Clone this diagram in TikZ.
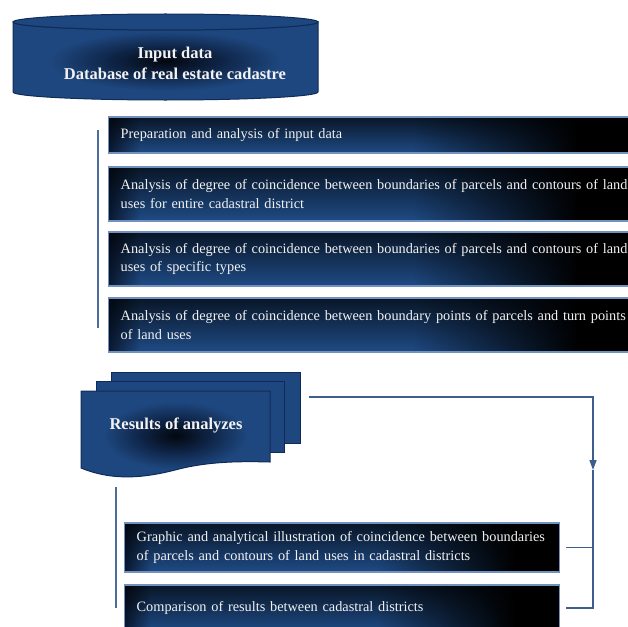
\documentclass[tikz,border=0pt]{standalone}
\usepackage{fontspec}
\setmainfont{Liberation Serif}
\usepackage{xcolor}
\usetikzlibrary{arrows.meta,fadings}
\definecolor{bar-dark}{HTML}{0A1A33}
\definecolor{bar-blue}{HTML}{1F4B85}
\definecolor{bar-edge}{HTML}{7391BD}
\definecolor{page-blue}{HTML}{1E477F}
\definecolor{page-edge}{HTML}{0F2C59}
\definecolor{glow-core}{HTML}{03070F}
\definecolor{glow-mid}{HTML}{0E2446}
\definecolor{link-blue}{HTML}{3E5F8E}
\definecolor{rail-blue}{HTML}{4D6D9C}
\definecolor{txt-white}{HTML}{F2F2F2}
\pgfdeclarehorizontalshading{barshade}{100bp}{color(0bp)=(bar-dark); color(25bp)=(bar-dark); color(28bp)=(bar-blue); color(54bp)=(bar-blue); color(70bp)=(black); color(100bp)=(black)}
\pgfdeclareradialshading{glowshade}{\pgfpoint{0bp}{0bp}}{color(0bp)=(glow-core); color(9bp)=(glow-mid); color(19bp)=(page-blue); color(50bp)=(page-blue)}

\begin{document}
\begin{tikzpicture}[x=1pt, y=-1pt,
    bar/.style={draw=bar-edge, line width=1.4pt, shade, shading=barshade, anchor=west,
      inner xsep=12pt, align=left, text=txt-white,
      font=\fontsize{14.3}{18.5}\selectfont,
      path picture={\fill[black, opacity=0.7, path fading=south]
        (path picture bounding box.south west) rectangle (path picture bounding box.north east);}},
    title/.style={text=txt-white, align=center, font=\bfseries\fontsize{16.5}{21}\selectfont},
    page/.style={draw=page-edge, line width=1pt, fill=page-blue},
    link/.style={draw=link-blue, line width=1.5pt},
    rail/.style={draw=rail-blue, line width=2pt}]
  \useasboundingbox (0,0) rectangle (628,626);
  \clip (0,0) rectangle (628,626);

  % database cylinder
  \shade[shading=glowshade, draw=page-edge, line width=1pt]
    (13,22) -- (13,92) arc[start angle=180, end angle=360, x radius=152.5pt, y radius=8pt]
    -- (318,22) arc[start angle=0, end angle=-180, x radius=152.5pt, y radius=8pt] -- cycle;
  \draw[page] (165.5,22) ellipse[x radius=152.5pt, y radius=8pt];
  \node[title] (input) at (175,63) {Input data\\Database of real estate cadastre};

  % analysis steps
  \draw[rail] (98,130) -- (98,328);
  \node[bar, text width=500pt, minimum height=36pt] (prep) at (108,135)
    {Preparation and analysis of input data};
  \node[bar, text width=500pt, minimum height=54pt] (whole) at (108,194)
    {\mbox{Analysis of degree of coincidence between boundaries of parcels and contours of land}\\uses for entire cadastral district};
  \node[bar, text width=500pt, minimum height=54pt] (types) at (108,259)
    {\mbox{Analysis of degree of coincidence between boundaries of parcels and contours of land}\\uses of specific types};
  \node[bar, text width=500pt, minimum height=54pt] (points) at (108,325)
    {\mbox{Analysis of degree of coincidence between boundary points of parcels and turn points}\\of land uses};

  % results (multi-document)
  \draw[page] (111,372) rectangle (300,443);
  \draw[page] (96,381) rectangle (284,452);
  \shade[shading=glowshade, draw=page-edge, line width=1pt]
    (81,391) -- (270,391) -- (270,462)
    .. controls (235,461) and (205,462) .. (175,470)
    .. controls (140,479) and (110,480) .. (81,468) -- cycle;
  \node[title] (res) at (176,425) {Results of analyzes};

  % outputs
  \draw[rail] (115.5,487) -- (115.5,608);
  \node[bar, text width=411pt, minimum height=49pt] (illu) at (124,547.5)
    {\mbox{Graphic and analytical illustration of coincidence between boundaries}\\of parcels and contours of land uses in cadastral districts};
  \node[bar, text width=411pt, minimum height=46pt] (cmp) at (124,608)
    {Comparison of results between cadastral districts};

  % feedback connector
  \coordinate (resout) at (309,397);
  \coordinate (jn) at (593,397);
  \coordinate (jarr) at (593,470);
  \draw[link, -{Triangle[length=10pt, width=7pt]}] (resout) -- (jn) -- (jarr);
  \draw[link] (jarr) -- (cmp.east -| jn) -- ([xshift=6pt]cmp.east);
  \draw[link] ([xshift=6pt]illu.east) -- (illu.east -| jn);
\end{tikzpicture}
\end{document}
